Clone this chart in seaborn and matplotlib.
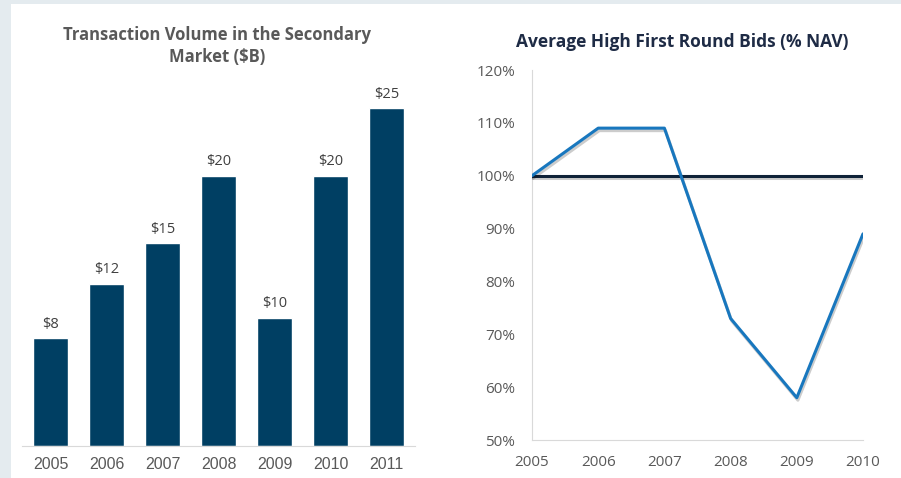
#!/usr/bin/env python3

import matplotlib
matplotlib.use("Agg")
import matplotlib.pyplot as plt
import matplotlib.patheffects as pe
from matplotlib.patches import Rectangle
import seaborn as sns
import pandas

# Transaction volume ($B) per year
volume_years = ["2005", "2006", "2007", "2008", "2009", "2010", "2011"]
volume_values = [8, 12, 15, 20, 9.5, 20, 25]
volume_labels = ["$8", "$12", "$15", "$20", "$10", "$20", "$25"]

# Average high first round bids (% NAV)
bid_years = [2005, 2006, 2007, 2008, 2009, 2010]
bid_values = [100, 109, 109, 73, 58, 89]
par_value = 100
bid_ticks = [50, 60, 70, 80, 90, 100, 110, 120]

sns.set_style("white")
plt.rcParams["font.family"] = ["Open Sans", "DejaVu Sans"]

BAR = "#003f63"
BLUE = "#1877be"
NAVY = "#0f2238"
GRID = "#d9d9d9"
TXT = "#595959"
BG = "#e4ebef"


def main():
    fig = plt.figure(figsize=(9.01, 4.78), dpi=100)
    fig.patch.set_facecolor("white")
    # light frame strips on top and left edge
    fig.patches.append(Rectangle((0, 0), 11 / 901, 1, transform=fig.transFigure,
                                 facecolor=BG, edgecolor="none", zorder=-10))
    fig.patches.append(Rectangle((0, 1 - 4 / 478), 1, 4 / 478,
                                 transform=fig.transFigure,
                                 facecolor=BG, edgecolor="none", zorder=-10))

    plot_volume(fig)
    plot_bids(fig)

    fig.savefig("out.png", dpi=100)
    plt.close(fig)


def plot_volume(fig):
    ax = fig.add_axes([22.5 / 901, 1 - 446 / 478, 392 / 901, 378.6 / 478])
    ax.set_facecolor("none")
    df = pandas.DataFrame({"year": volume_years, "volume": volume_values})
    sns.barplot(data=df, x="year", y="volume", color=BAR, width=0.625,
                saturation=1, ax=ax)
    for i, (v, lab) in enumerate(zip(volume_values, volume_labels)):
        ax.annotate(lab, (i, v), xytext=(0, 4.5), textcoords="offset points",
                    ha="center", va="bottom", fontsize=10.5, color="#404040")
    ax.set_xlim(-0.5, len(volume_years) - 0.5)
    ax.set_ylim(0, 28)
    ax.set_xlabel("")
    ax.set_ylabel("")
    ax.set_yticks([])
    for s in ["top", "right", "left"]:
        ax.spines[s].set_visible(False)
    ax.spines["bottom"].set_color(GRID)
    ax.tick_params(axis="x", length=0, labelsize=11.5, labelcolor=TXT, pad=8)
    ax.set_xticks(range(len(volume_years)))
    ax.set_xticklabels(volume_years, family=["Liberation Sans", "DejaVu Sans"])
    # boundary ticks between categories
    ax.set_xticks([i - 0.5 for i in range(len(volume_years) + 1)], minor=True)
    ax.tick_params(axis="x", which="minor", length=5, color=GRID, direction="out")
    fig.text(217 / 901, 1 - 46 / 478,
             "Transaction Volume in the Secondary\nMarket ($B)",
             ha="center", va="center", fontsize=12, fontweight="bold",
             color=TXT, linespacing=1.35)


def plot_bids(fig):
    ax = fig.add_axes([532 / 901, 1 - 440 / 478, 331 / 901, 370 / 478])
    ax.set_facecolor("none")
    df = pandas.DataFrame({"year": bid_years, "bid": bid_values,
                           "par": [par_value] * len(bid_years)})
    shadow = [pe.SimpleLineShadow(offset=(0.8, -1.8), alpha=0.2),
              pe.Normal()]
    sns.lineplot(data=df, x="year", y="par", color=NAVY, linewidth=2.2,
                 ax=ax, path_effects=shadow, zorder=3)
    sns.lineplot(data=df, x="year", y="bid", color=BLUE, linewidth=2.2,
                 ax=ax, path_effects=shadow, zorder=4)
    ax.set_xlim(bid_years[0], bid_years[-1])
    ax.set_ylim(bid_ticks[0], bid_ticks[-1])
    ax.set_xticks(bid_years)
    ax.set_yticks(bid_ticks)
    ax.set_yticklabels([f"{t}%" for t in bid_ticks])
    ax.set_xlabel("")
    ax.set_ylabel("")
    for s in ["top", "right"]:
        ax.spines[s].set_visible(False)
    for s in ["bottom", "left"]:
        ax.spines[s].set_color(GRID)
    ax.tick_params(axis="both", length=5, color=GRID, labelsize=11,
                   labelcolor=TXT, direction="out")
    ax.tick_params(axis="y", pad=7)
    ax.tick_params(axis="x", pad=6)
    fig.text(682 / 901, 1 - 42 / 478, "Average High First Round Bids (% NAV)",
             ha="center", va="center", fontsize=12.5, fontweight="bold",
             color="#1e2b45")


if __name__ == "__main__":
    main()
